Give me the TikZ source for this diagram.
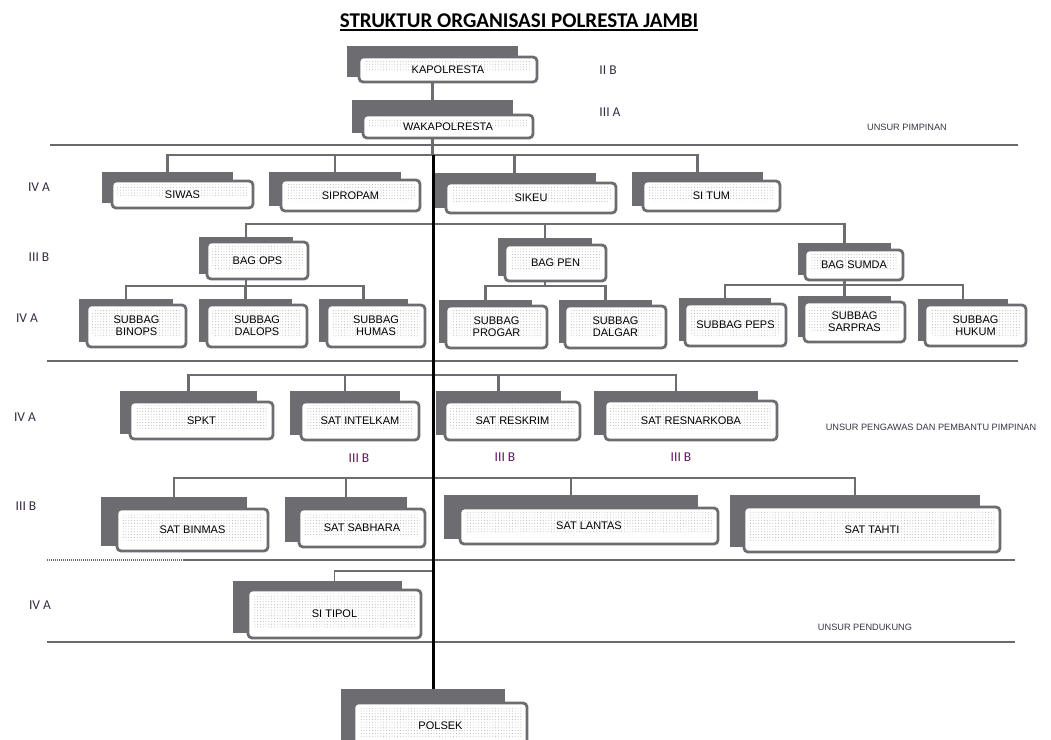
\documentclass[tikz,border=0pt]{standalone}
\usepackage{fontspec}
\setmainfont{Liberation Sans}
\newfontfamily\carlito{Carlito}
\usetikzlibrary{patterns.meta,backgrounds}
\definecolor{boxgray}{RGB}{108,108,113}
\definecolor{sepgray}{RGB}{105,105,110}
\definecolor{gradegray}{RGB}{55,45,65}
\definecolor{gradepurple}{RGB}{95,25,95}
\definecolor{unsurgray}{RGB}{55,55,70}
\tikzset{
  shadowbox/.style={fill=boxgray, inner sep=0pt, outer sep=0pt},
  unitbox/.style={draw=boxgray, line width=2.8pt, rounded corners=4pt, fill=white,
    inner sep=0pt, outer sep=0pt, align=center, text=black,
    font=\fontsize{11}{12}\selectfont,
    path picture={\fill[pattern={Dots[radius=0.45pt,distance=2.8pt]}, pattern color=black!35]
      ([shift={(5pt,-3.5pt)}]path picture bounding box.north west) rectangle
      ([shift={(-5pt,10pt)}]path picture bounding box.south east);}},
  conn/.style={draw=boxgray, line width=2.8pt},
  thinconn/.style={draw=boxgray, line width=1.2pt},
  spine/.style={draw=black, line width=3pt},
  sepline/.style={draw=sepgray, line width=2.2pt},
  grade/.style={font=\carlito\fontsize{13.5}{14}\selectfont, text=gradegray},
  unsur/.style={font=\fontsize{9.2}{10}\selectfont, text=unsurgray}
}
\begin{document}
\begin{tikzpicture}[x=1pt,y=-1pt]
  \useasboundingbox (0,0) rectangle (1051,739);
  \clip (0,0) rectangle (1051,739);
  % title
  \node[font=\carlito\bfseries\fontsize{21}{21}\selectfont, inner sep=0pt] (title) at (519,21)
    {STRUKTUR ORGANISASI POLRESTA JAMBI};
  \draw[line width=1.6pt] ([yshift=-2pt]title.south west) -- ([yshift=-2pt]title.south east);
  % units: name / shadow left, top, right / box left, top, right, bottom / text
  \foreach \n/\sx/\sy/\sr/\xa/\ya/\xb/\yb/\txt in {
      kapol/347/46/518/359/57/537/82/KAPOLRESTA,
      waka/352/100/513/363/115/533/138/WAKAPOLRESTA,
      siwas/102/172/233/112/181/253/208/SIWAS,
      sipropam/269/172/401/281/180/420/211/SIPROPAM,
      sikeu/433/173/596/446/183/616/213/SIKEU,
      situm/632/172/763/643/181/780/211/SI TUM,
      bagops/199/237/293/207/242/308/279/BAG OPS,
      bagpen/498/238/592/505/245/606/281/BAG PEN,
      bagsumda/798/243/891/805/250/903/280/BAG SUMDA,
      binops/79/299/173/87/305/186/347/SUBBAG\\BINOPS,
      dalops/199/299/292/207/305/307/347/SUBBAG\\DALOPS,
      humas/319/299/408/327/305/425/347/SUBBAG\\HUMAS,
      progar/439/300/532/446/306/547/348/SUBBAG\\PROGAR,
      dalgar/559/300/652/565/306/666/348/SUBBAG\\DALGAR,
      peps/679/298/771/685/304/786/346/SUBBAG PEPS,
      sarpras/798/296/891/804/302/905/342/SUBBAG\\SARPRAS,
      hukum/918/299/1008/925/305/1026/346/SUBBAG\\HUKUM,
      spkt/120/391/257/130/402/273/439/SPKT,
      intelkam/290/391/400/301/402/419/440/SAT INTELKAM,
      reskrim/436/391/561/445/402/580/440/SAT RESKRIM,
      resnarkoba/594/391/758/605/401/777/440/SAT RESNARKOBA,
      binmas/101/497/247/117/509/268/551/SAT BINMAS,
      sabhara/285/497/407/299/509/425/547/SAT SABHARA,
      lantas/444/495/698/460/508/718/544/SAT LANTAS,
      tahti/730/495/980/744/507/1000/552/SAT TAHTI,
      sitipol/233/581/402/248/590/421/638/SI TIPOL,
      polsek/341/689/505/354/703/527/748/POLSEK}{
    \node[shadowbox, minimum width={(\sr-\sx)*1pt}, minimum height={(\yb-5-\sy)*1pt}]
      (\n-sh) at ({(\sx+\sr)/2},{(\sy+\yb-5)/2}) {};
    \node[unitbox, minimum width={(\xb-\xa)*1pt}, minimum height={(\yb-\ya)*1pt}]
      (\n) at ({(\xa+\xb)/2},{(\ya+\yb)/2}) {\txt};
  }
  % separators
  \draw[sepline] (50,145) -- (1018,145);
  \draw[sepline] (47,361) -- (1018,361);
  \draw[sepline, line width=1.4pt, dash pattern=on 1pt off 1pt] (47,560) -- (183,560);
  \draw[sepline] (183,560) -- (1015,560);
  \draw[sepline] (47,642) -- (1015,642);
  % bars
  \coordinate (bar1) at (433,155);
  \coordinate (bar2) at (433,224);
  \coordinate (bar3) at (0,286);
  \coordinate (bar3b) at (0,285);
  \coordinate (bar4) at (0,375);
  \coordinate (bar5) at (0,478);
  \coordinate (bar6) at (433,571);
  \draw[spine] (bar1) -- (bar1 |- polsek-sh.north);
  \begin{scope}[on background layer]
    \fill[white] (0,0) rectangle (1051,739);
    \draw[conn] (kapol-sh) -- (waka-sh);
    \draw[conn] (waka-sh) -- (waka-sh |- bar1);
    \draw[conn] (siwas-sh.north) -- (siwas-sh.north |- bar1) -- (situm-sh.north |- bar1) -- (situm-sh.north);
    \draw[conn] (bagops-sh.north) -- (bagops-sh.north |- bar2) -- (bagsumda-sh.north |- bar2) -- (bagsumda-sh.north);
    \draw[conn] (bagops-sh) -- (bagops-sh |- bar3);
    \draw[conn] (binops-sh.north) -- (binops-sh.north |- bar3) -- (humas-sh.north |- bar3) -- (humas-sh.north);
    \draw[conn] (bagpen-sh) -- (bagpen-sh |- bar3);
    \draw[conn] (progar-sh.north) -- (progar-sh.north |- bar3) -- (dalgar-sh.north |- bar3) -- (dalgar-sh.north);
    \draw[conn] (bagsumda-sh) -- (bagsumda-sh |- bar3b);
    \draw[conn] (peps-sh.north) -- (peps-sh.north |- bar3b) -- (hukum-sh.north |- bar3b) -- (hukum-sh.north);
    \draw[conn] (spkt-sh.north) -- (spkt-sh.north |- bar4) -- (resnarkoba-sh.north |- bar4) -- (resnarkoba-sh.north);
    \draw[conn] (binmas-sh.north) -- (binmas-sh.north |- bar5) -- (tahti-sh.north |- bar5) -- (tahti-sh.north);
    \foreach \c/\b in {sipropam/bar1,sikeu/bar1,bagpen/bar2,dalops/bar3,sarpras/bar3b,
                       intelkam/bar4,reskrim/bar4,sabhara/bar5,lantas/bar5}
      \draw[conn] (\c-sh.north) -- (\c-sh.north |- \b);
    \draw[thinconn] (bar6) -| (sitipol-sh.north -| sitipol);
  \end{scope}
  % grades
  \node[grade] (gkapol) at (608,70) {II B};
  \node[grade] (gwaka) at (610,112) {III A};
  \node[grade] (grow1) at (39,187) {IV A};
  \node[grade] (grow2) at (39,257) {III B};
  \node[grade] (grow3) at (27,318) {IV A};
  \node[grade] (grow4) at (25,417) {IV A};
  \node[grade] (grow5) at (26,506) {III B};
  \node[grade] (grow6) at (40,605) {IV A};
  \node[grade, text=gradepurple] (gsat1) at (359,458) {III B};
  \node[grade, text=gradepurple] (gsat2) at (505,457) {III B};
  \node[grade, text=gradepurple] (gsat3) at (681,457) {III B};
  % unsur
  \node[unsur] (upimpinan) at (907,127) {UNSUR PIMPINAN};
  \node[unsur] (upengawas) at (931,427) {UNSUR PENGAWAS DAN PEMBANTU PIMPINAN};
  \node[unsur] (upendukung) at (865,627) {UNSUR PENDUKUNG};
\end{tikzpicture}
\end{document}
